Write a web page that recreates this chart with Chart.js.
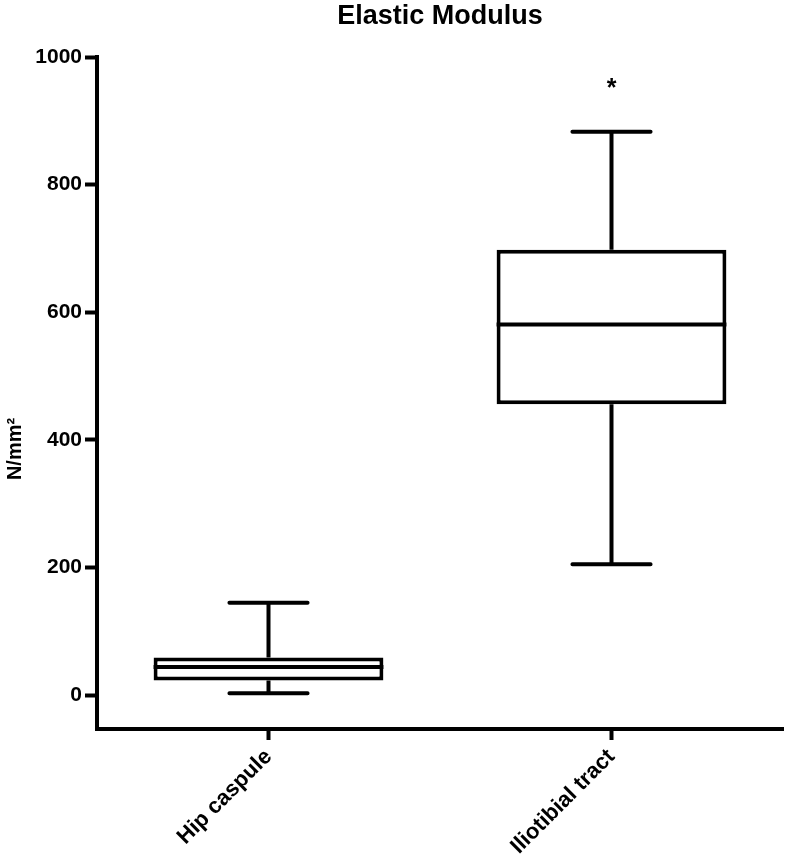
<!DOCTYPE html>
<html>
<head>
<meta charset="utf-8">
<script src="https://cdn.jsdelivr.net/npm/chart.js@4/dist/chart.umd.min.js"></script>
<style>
  body { margin: 0; background: #fff; }
  #chart { display: block; }
</style>
</head>
<body>
<canvas id="chart" width="785" height="859"></canvas>
<script>
// Box plot values (N/mm²)
const categories = ['Hip caspule', 'Iliotibial tract'];
const whiskerMin = [3, 205];
const q1 = [23, 456];
const median = [44, 581];
const q3 = [59, 698];
const whiskerMax = [145, 883];
const marks = ['', '*'];
const yTicks = [0, 200, 400, 600, 800, 1000];

const FONT = '"Liberation Sans", Arial, sans-serif';

// whiskers, medians, caps, significance mark, titles
const boxPlotExtras = {
    id: 'boxPlotExtras',
    afterDatasetsDraw(chart) {
        const ctx = chart.ctx;
        const y = chart.scales.y;
        const meta = chart.getDatasetMeta(0);
        ctx.save();
        ctx.strokeStyle = '#000';
        ctx.lineWidth = 4;
        meta.data.forEach((bar, i) => {
            const cx = bar.x;
            const half = bar.width / 2;
            const capHalf = bar.width * 0.17;

            // median
            ctx.lineCap = 'butt';
            ctx.beginPath();
            ctx.moveTo(cx - half, y.getPixelForValue(median[i]));
            ctx.lineTo(cx + half, y.getPixelForValue(median[i]));
            ctx.stroke();

            // whiskers
            ctx.beginPath();
            ctx.moveTo(cx, y.getPixelForValue(q3[i]));
            ctx.lineTo(cx, y.getPixelForValue(whiskerMax[i]));
            ctx.moveTo(cx, y.getPixelForValue(q1[i]));
            ctx.lineTo(cx, y.getPixelForValue(whiskerMin[i]));
            ctx.stroke();

            // caps
            ctx.lineCap = 'round';
            ctx.beginPath();
            ctx.moveTo(cx - capHalf, y.getPixelForValue(whiskerMax[i]));
            ctx.lineTo(cx + capHalf, y.getPixelForValue(whiskerMax[i]));
            ctx.moveTo(cx - capHalf, y.getPixelForValue(whiskerMin[i]));
            ctx.lineTo(cx + capHalf, y.getPixelForValue(whiskerMin[i]));
            ctx.stroke();

            if (marks[i]) {
                ctx.fillStyle = '#000';
                ctx.font = 'bold 25px ' + FONT;
                ctx.textAlign = 'center';
                ctx.textBaseline = 'alphabetic';
                ctx.fillText(marks[i], cx, y.getPixelForValue(whiskerMax[i]) - 36);
            }
        });
        ctx.restore();
    },
    afterDraw(chart) {
        const ctx = chart.ctx;
        const area = chart.chartArea;
        ctx.save();
        ctx.fillStyle = '#000';

        // chart title, centred over the plot area
        ctx.font = 'bold 27px ' + FONT;
        ctx.textAlign = 'center';
        ctx.textBaseline = 'alphabetic';
        ctx.fillText('Elastic Modulus', (area.left + area.right) / 2, 24);

        // y axis title
        ctx.font = 'bold 20px ' + FONT;
        ctx.translate(21, 449);
        ctx.rotate(-Math.PI / 2);
        ctx.fillText('N/mm²', 0, 0);
        ctx.restore();
    }
};

new Chart(document.getElementById('chart'), {
    type: 'bar',
    data: {
        labels: categories,
        datasets: [{
            data: q1.map((v, i) => [v, q3[i]]),
            backgroundColor: '#fff',
            borderColor: '#000',
            borderWidth: 4,
            borderSkipped: false,
            barPercentage: 0.67,
            categoryPercentage: 1
        }]
    },
    options: {
        responsive: false,
        animation: false,
        layout: { padding: { top: 57, right: 2, left: 0, bottom: 0 } },
        plugins: {
            legend: { display: false },
            title: { display: false },
            tooltip: { enabled: false }
        },
        scales: {
            x: {
                offset: true,
                border: { display: true, color: '#000', width: 4 },
                grid: {
                    offset: false,
                    drawOnChartArea: false,
                    drawTicks: true,
                    tickLength: 11,
                    tickWidth: 4,
                    tickColor: '#000'
                },
                ticks: {
                    color: '#000',
                    font: { family: FONT, size: 22, weight: 'bold' },
                    maxRotation: 45,
                    minRotation: 45,
                    padding: 4
                },
                afterFit(scale) { scale.height = 130; }
            },
            y: {
                min: -53,
                max: 1000,
                border: { display: true, color: '#000', width: 4 },
                grid: {
                    drawOnChartArea: false,
                    drawTicks: true,
                    tickLength: 12,
                    tickWidth: 4,
                    tickColor: '#000'
                },
                ticks: {
                    color: '#000',
                    font: { family: FONT, size: 21, weight: 'bold' },
                    padding: 3,
                    callback: v => String(v)
                },
                afterBuildTicks(scale) {
                    scale.ticks = yTicks.map(v => ({ value: v }));
                },
                afterFit(scale) { scale.width = 97; }
            }
        }
    },
    plugins: [boxPlotExtras]
});
</script>
</body>
</html>
